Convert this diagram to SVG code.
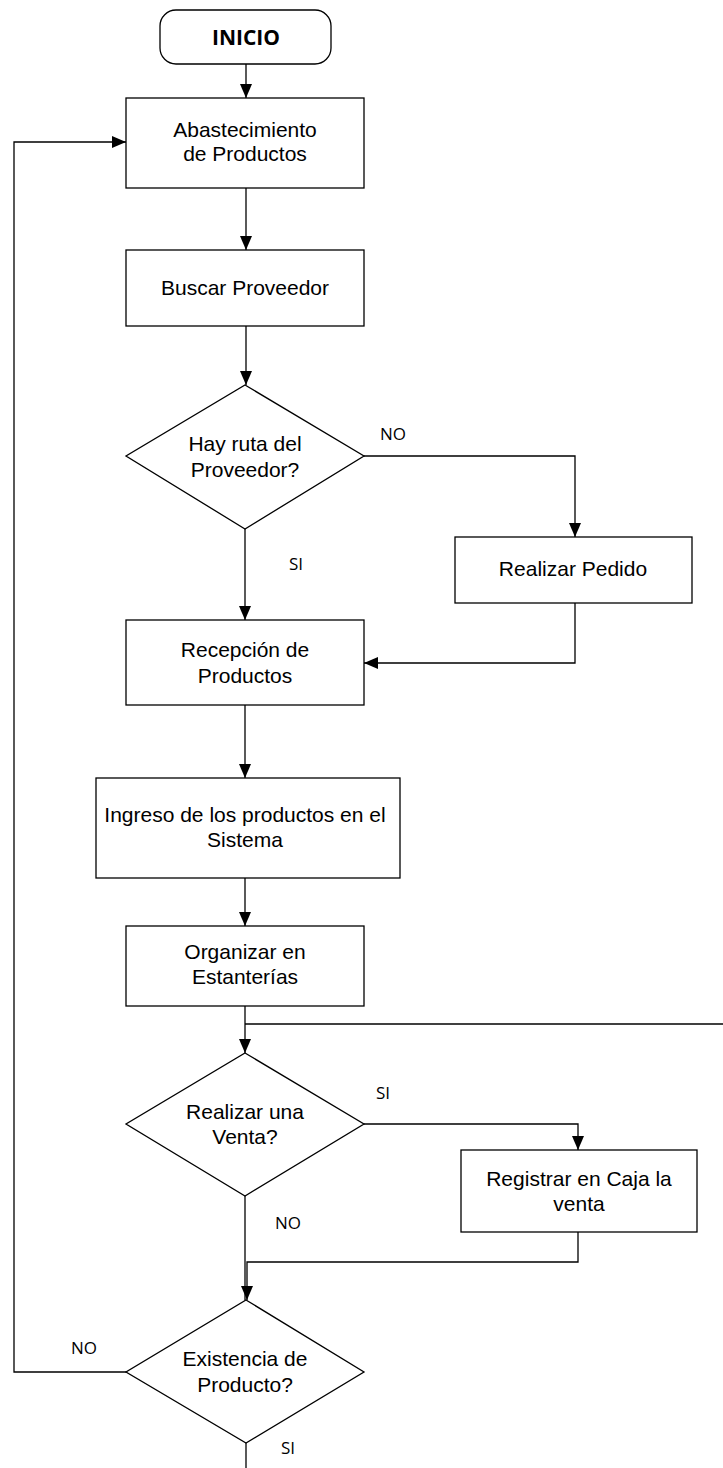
<svg xmlns="http://www.w3.org/2000/svg" width="723" height="1468" viewBox="0 0 723 1468">
<style>
.box{fill:#fff;stroke:#000;stroke-width:1.3}
.ln{fill:none;stroke:#000;stroke-width:1.3}
.t{font-family:"Liberation Sans",Arial,sans-serif;font-size:21px;fill:#000;text-anchor:middle}
.lb{font-family:"Open Sans","Liberation Sans",sans-serif;font-size:17px;fill:#000;text-anchor:middle}
.b{font-family:"Open Sans","Liberation Sans",sans-serif;font-size:21px;font-weight:bold;fill:#000;text-anchor:middle}
</style>
<defs>
<marker id="arr" viewBox="0 0 14 12" markerWidth="14" markerHeight="12" refX="14" refY="6" orient="auto" markerUnits="userSpaceOnUse">
<path d="M0,0 L14,6 L0,12 z" fill="#000"/>
</marker>
</defs>
<rect width="723" height="1468" fill="#fff"/>
<g id="connectors">
<path class="ln" d="M246,64 V98" marker-end="url(#arr)"/>
<path class="ln" d="M246,188 V250" marker-end="url(#arr)"/>
<path class="ln" d="M246,326 V385" marker-end="url(#arr)"/>
<path class="ln" d="M364,456 H575 V537" marker-end="url(#arr)"/>
<path class="ln" d="M245,529 V620" marker-end="url(#arr)"/>
<path class="ln" d="M575,603 V663 H364" marker-end="url(#arr)"/>
<path class="ln" d="M245,705 V778" marker-end="url(#arr)"/>
<path class="ln" d="M245,878 V926" marker-end="url(#arr)"/>
<path class="ln" d="M245,1006 V1053" marker-end="url(#arr)"/>
<path class="ln" d="M245,1024 H723"/>
<path class="ln" d="M364,1124 H578 V1150" marker-end="url(#arr)"/>
<path class="ln" d="M245,1196 V1300"/>
<path class="ln" d="M578,1232 V1262 H247 V1300" marker-end="url(#arr)"/>
<path class="ln" d="M126,1372 H14 V142 H126" marker-end="url(#arr)"/>
<path class="ln" d="M246,1443 V1468"/>
</g>
<g id="inicio">
<rect class="box" x="160" y="10" width="171" height="54" rx="16"/>
<text class="b" x="246" y="45">INICIO</text>
</g>
<g id="abastecimiento">
<rect class="box" x="126" y="98" width="238" height="90"/>
<text class="t" x="245" y="137">Abastecimiento</text>
<text class="t" x="245" y="161">de Productos</text>
</g>
<g id="buscar">
<rect class="box" x="126" y="250" width="238" height="76"/>
<text class="t" x="245" y="295">Buscar Proveedor</text>
</g>
<g id="ruta">
<polygon class="box" points="245,385 364,456 245,529 126,456"/>
<text class="t" x="245" y="451">Hay ruta del</text>
<text class="t" x="245" y="477">Proveedor?</text>
</g>
<g id="pedido">
<rect class="box" x="455" y="537" width="237" height="66"/>
<text class="t" x="573" y="576">Realizar Pedido</text>
</g>
<g id="recepcion">
<rect class="box" x="126" y="620" width="238" height="85"/>
<text class="t" x="245" y="657">Recepción de</text>
<text class="t" x="245" y="683">Productos</text>
</g>
<g id="ingreso">
<rect class="box" x="96" y="778" width="304" height="100"/>
<text class="t" x="245" y="822">Ingreso de los productos en el</text>
<text class="t" x="245" y="847">Sistema</text>
</g>
<g id="organizar">
<rect class="box" x="126" y="926" width="238" height="80"/>
<text class="t" x="245" y="959">Organizar en</text>
<text class="t" x="245" y="984">Estanterías</text>
</g>
<g id="venta">
<polygon class="box" points="245,1053 364,1124 245,1196 126,1124"/>
<text class="t" x="245" y="1119">Realizar una</text>
<text class="t" x="245" y="1144">Venta?</text>
</g>
<g id="registrar">
<rect class="box" x="461" y="1150" width="236" height="82"/>
<text class="t" x="579" y="1186">Registrar en Caja la</text>
<text class="t" x="579" y="1211">venta</text>
</g>
<g id="existencia">
<polygon class="box" points="246,1300 364,1372 246,1443 126,1372"/>
<text class="t" x="245" y="1366">Existencia de</text>
<text class="t" x="245" y="1392">Producto?</text>
</g>
<g id="labels">
<text class="lb" x="393" y="440">NO</text>
<text class="lb" x="296" y="570">SI</text>
<text class="lb" x="383" y="1099">SI</text>
<text class="lb" x="288" y="1229">NO</text>
<text class="lb" x="84" y="1354">NO</text>
<text class="lb" x="288" y="1454">SI</text>
</g>
</svg>
